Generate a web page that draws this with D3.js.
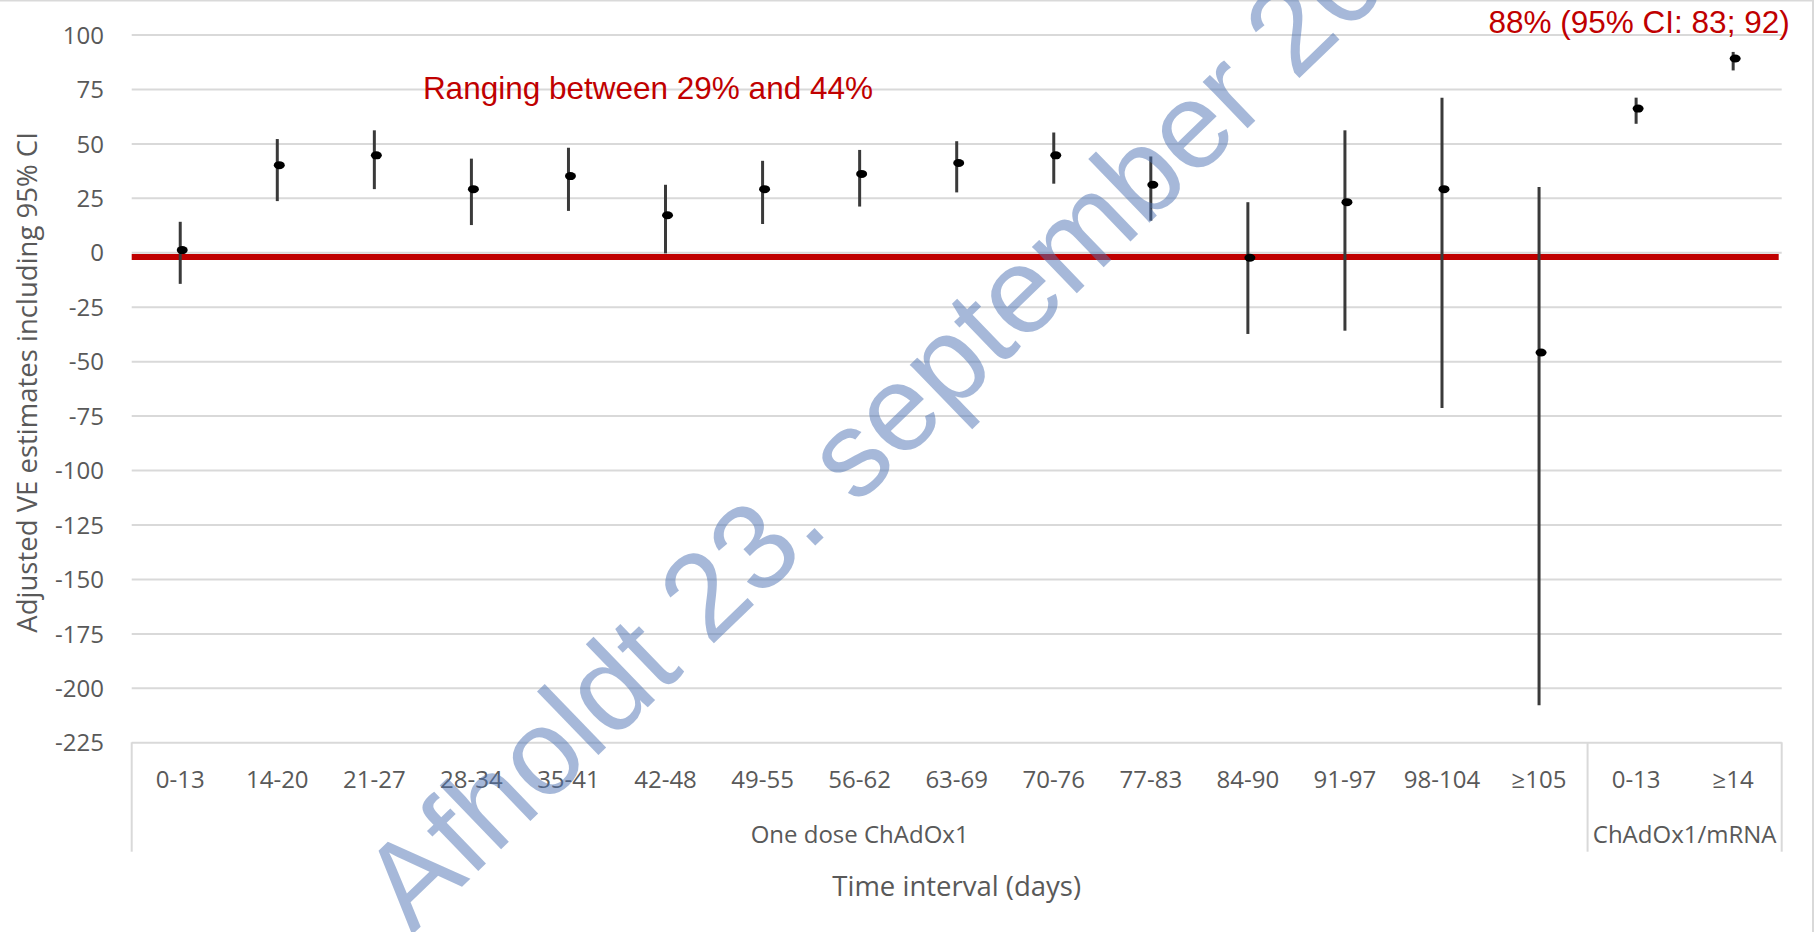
<!DOCTYPE html>
<html lang="en">
<head>
<meta charset="UTF-8">
<title>Adjusted VE estimates</title>
<script src="https://cdn.jsdelivr.net/npm/d3@7"></script>
<style>
  body { margin: 0; background: #fff; }
  svg { display: block; }
  .tick text { font-family: "Open Sans", sans-serif; font-size: 24px; fill: #595959; }
  .label { font-family: "Open Sans", sans-serif; font-size: 24px; fill: #595959; }
  .axis-title { font-family: "Open Sans", sans-serif; font-size: 27.5px; fill: #595959; }
  .note { font-family: "Liberation Sans", Arial, sans-serif; font-size: 31.5px; fill: #c00000; }
  .watermark { font-family: "Liberation Sans", Arial, sans-serif; font-size: 122px; fill: rgb(79, 116, 180); opacity: 0.5; }
</style>
</head>
<body>
<svg id="chart" width="1814" height="932"></svg>
<script>
  // categories (time interval, days) and the group each one belongs to
  const categories = ["0-13", "14-20", "21-27", "28-34", "35-41", "42-48", "49-55", "56-62",
    "63-69", "70-76", "77-83", "84-90", "91-97", "98-104", "≥105", "0-13", "≥14"];
  const groupNames = ["One dose ChAdOx1", "ChAdOx1/mRNA"];
  const groupSizes = [15, 2];

  // adjusted VE estimates with 95% CI
  const estimates = [1, 40, 44.5, 29, 35, 17, 29, 36, 41, 44.5, 31, -2.5, 23, 29, -46, 66, 89];
  const lowerCI = [-14.5, 23.5, 29, 12.5, 19, -0.5, 13, 21, 27.5, 31.5, 14.5, -37.5, -36, -71.5, -208, 59, 83.5];
  const upperCI = [14, 52, 56, 43, 48, 31, 42, 47, 51, 55, 44, 23, 56, 71, 30, 71, 92];

  const yTicks = [-225, -200, -175, -150, -125, -100, -75, -50, -25, 0, 25, 50, 75, 100];
  const refLine = -2.2;
  const notes = ["Ranging between 29% and 44%", "88% (95% CI: 83; 92)"];
  const watermark = "Afholdt 23. september 2021";

  const W = 1814, H = 932;
  const plotLeft = 131.7, plotRight = 1781.7, plotTop = 34.5, plotBottom = 742.3;

  const svg = d3.select("#chart");

  const y = d3.scaleLinear().domain([-225, 100]).range([plotBottom, plotTop]);
  const x = d3.scaleBand().domain(d3.range(categories.length)).range([plotLeft, plotRight]);
  const cx = i => x(i) + x.bandwidth() / 2;

  // border lines at the top and right of the picture
  svg.append("line").attr("x1", 0).attr("x2", W).attr("y1", 0.5).attr("y2", 0.5)
    .attr("stroke", "#d9d9d9").attr("stroke-width", 2);
  svg.append("line").attr("x1", W - 1).attr("x2", W - 1).attr("y1", 0).attr("y2", H)
    .attr("stroke", "#d9d9d9").attr("stroke-width", 2);

  // y axis with gridlines (plain hyphen for negatives, like the original)
  const yAxis = svg.append("g")
    .attr("transform", `translate(${plotLeft},0)`)
    .call(d3.axisLeft(y).tickValues(yTicks).tickFormat(d => String(d))
      .tickSizeInner(-(plotRight - plotLeft)).tickSizeOuter(0).tickPadding(plotLeft - 104));
  yAxis.select(".domain").remove();
  yAxis.selectAll(".tick line").attr("stroke", "#d9d9d9").attr("stroke-width", 2);
  yAxis.selectAll(".tick text").attr("dy", "0.36em");
  yAxis.attr("font-family", null).attr("font-size", null);

  // category labels
  const xAxis = svg.append("g")
    .attr("transform", `translate(0,${plotBottom})`)
    .call(d3.axisBottom(x).tickFormat(i => categories[i]).tickSize(0).tickPadding(28.5));
  xAxis.select(".domain").remove();
  xAxis.attr("font-family", null).attr("font-size", null);

  // group separators and group labels
  let count = 0;
  const bounds = [x(0)];
  groupSizes.forEach(n => { count += n; bounds.push(x(count - 1) + x.bandwidth()); });
  svg.selectAll(".sep").data(bounds).join("line")
    .attr("x1", d => d).attr("x2", d => d)
    .attr("y1", plotBottom).attr("y2", 851.7)
    .attr("stroke", "#d9d9d9").attr("stroke-width", 2);
  svg.selectAll(".group").data(groupNames).join("text")
    .attr("class", "label")
    .attr("x", (d, i) => (bounds[i] + bounds[i + 1]) / 2)
    .attr("y", 843.3)
    .attr("text-anchor", "middle")
    .text(d => d);

  // axis titles
  svg.append("text").attr("class", "axis-title")
    .attr("x", (plotLeft + plotRight) / 2).attr("y", 896)
    .attr("text-anchor", "middle")
    .text("Time interval (days)");
  svg.append("text").attr("class", "axis-title")
    .attr("transform", `translate(37,${(plotTop + plotBottom) / 2 - 6}) rotate(-90)`)
    .attr("text-anchor", "middle")
    .text("Adjusted VE estimates including 95% CI");

  // red reference line
  svg.append("line")
    .attr("x1", plotLeft).attr("x2", plotRight - 3)
    .attr("y1", y(refLine)).attr("y2", y(refLine))
    .attr("stroke", "#c00000").attr("stroke-width", 6);

  // error bars and point estimates
  svg.selectAll(".ci").data(estimates).join("line")
    .attr("x1", (d, i) => cx(i)).attr("x2", (d, i) => cx(i))
    .attr("y1", (d, i) => y(lowerCI[i])).attr("y2", (d, i) => y(upperCI[i]))
    .attr("stroke", "#3a3a3a").attr("stroke-width", 3);
  svg.selectAll(".est").data(estimates).join("ellipse")
    .attr("cx", (d, i) => cx(i) + 2).attr("cy", d => y(d))
    .attr("rx", 5.5).attr("ry", 4)
    .attr("fill", "#000");

  // annotations
  svg.append("text").attr("class", "note")
    .attr("x", x(3)).attr("y", y(70.5))
    .text(notes[0]);
  svg.append("text").attr("class", "note")
    .attr("x", plotRight + 8).attr("y", y(100.7))
    .attr("text-anchor", "end")
    .text(notes[1]);

  // watermark, runs off the top edge as in the original
  svg.append("text").attr("class", "watermark")
    .attr("transform", "translate(412,935) rotate(-44)")
    .text(watermark);
</script>
</body>
</html>
